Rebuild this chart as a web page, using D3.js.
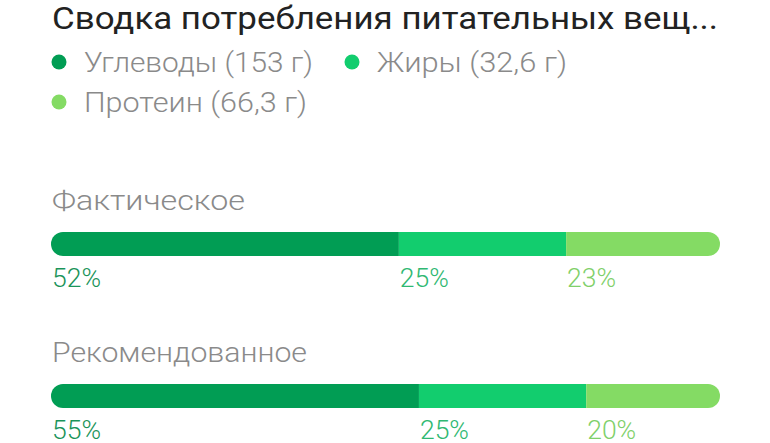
<!DOCTYPE html>
<html><head><meta charset="utf-8">
<script src="https://cdn.jsdelivr.net/npm/d3@7"></script>
<style>body{margin:0;background:#fff}svg{display:block}text{font-family:Roboto,"Noto Sans",sans-serif}</style>
</head><body>
<svg id="c" width="770" height="443"></svg>
<script>
const title = "Сводка потребления питательных вещ...";
const nutrients = ["Углеводы", "Жиры", "Протеин"];
const grams = ["153 г", "32,6 г", "66,3 г"];
const rows = ["Фактическое", "Рекомендованное"];
const actual = [52, 25, 23];
const recommended = [55, 25, 20];

const segColors = ["#019d54", "#12cd6e", "#84db64"];
const labelColors = ["#1a9459", "#2fb872", "#7fd06a"];

const svg = d3.select("#c");
const left = 51, right = 720;
const x = d3.scaleLinear().domain([0, 100]).range([left, right]);

function fit(sel, w) {
  sel.attr("textLength", w).attr("lengthAdjust", "spacingAndGlyphs");
}

fit(svg.append("text").attr("x", 52).attr("y", 29).attr("font-size", 31)
  .attr("fill", "#222").text(title), 666);

// legend
const legendPos = [[59, 62], [352, 62], [59, 102]];
const legendW = [229, 190, 223];
nutrients.forEach((n, i) => {
  const [cx, cy] = legendPos[i];
  svg.append("circle").attr("cx", cx).attr("cy", cy).attr("r", 7.5).attr("fill", segColors[i]);
  fit(svg.append("text").attr("x", cx + 25).attr("y", cy + 10).attr("font-size", 27)
    .attr("font-weight", 300).attr("fill", "#8a8a8a").text(`${n} (${grams[i]})`), legendW[i]);
});

const datasets = [actual, recommended];
const rowY = [232, 384];
const rowW = [193, 255];
rows.forEach((r, ri) => {
  const y0 = rowY[ri];
  fit(svg.append("text").attr("x", 52).attr("y", y0 - 22).attr("font-size", 27)
    .attr("font-weight", 300).attr("fill", "#8a8a8a").text(r), rowW[ri]);
  const vals = datasets[ri];
  const starts = d3.cumsum([0, ...vals.slice(0, -1)]);
  const h = 24;
  const clipId = "clip" + ri;
  svg.append("clipPath").attr("id", clipId).append("rect")
    .attr("x", x(0)).attr("y", y0).attr("width", x(100) - x(0)).attr("height", h).attr("rx", h / 2);
  const g = svg.append("g").attr("clip-path", `url(#${clipId})`);
  vals.forEach((v, i) => {
    g.append("rect").attr("x", x(starts[i])).attr("y", y0)
      .attr("width", x(starts[i] + v) - x(starts[i])).attr("height", h).attr("fill", segColors[i]);
    fit(svg.append("text").attr("x", x(starts[i]) + 1).attr("y", y0 + 55).attr("font-size", 25)
      .attr("font-weight", 300).attr("fill", labelColors[i]).text(v + "%"), 49);
  });
});
</script>
</body></html>
